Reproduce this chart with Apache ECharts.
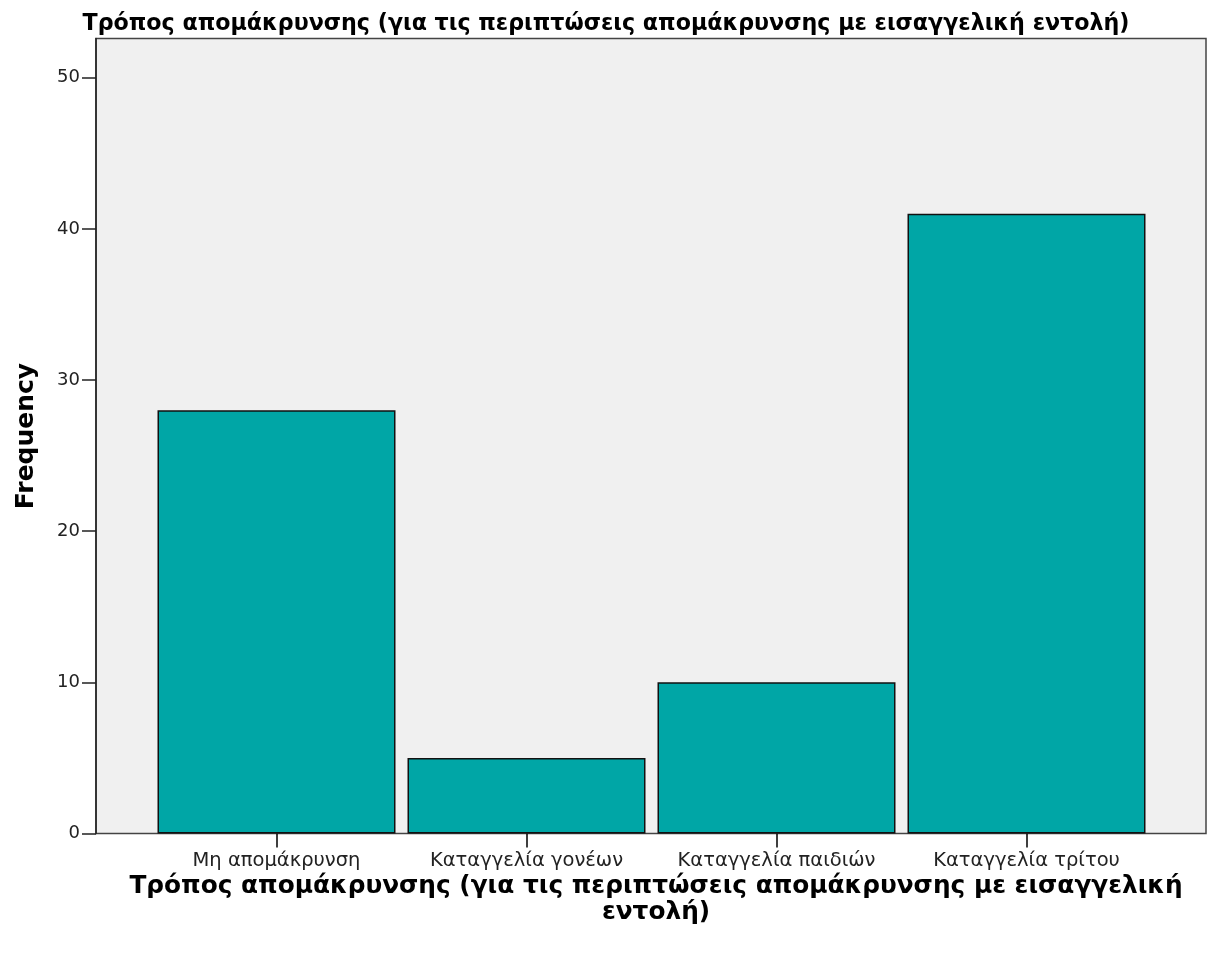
<!DOCTYPE html>
<html><head><meta charset="utf-8">
<script src="https://cdn.jsdelivr.net/npm/echarts@6/dist/echarts.min.js"></script>
<style>html,body{margin:0;padding:0;background:#fff}#c{width:1213px;height:955px}</style>
</head><body><div id="c"></div>
<script>
const categories = ['Μη απομάκρυνση', 'Καταγγελία γονέων', 'Καταγγελία παιδιών', 'Καταγγελία τρίτου'];
const frequencies = [28, 5, 10, 41];
const yTicks = [0, 10, 20, 30, 40, 50];
const chartTitle = 'Τρόπος απομάκρυνσης (για τις περιπτώσεις απομάκρυνσης με εισαγγελική εντολή)';
const xTitle = 'Τρόπος απομάκρυνσης (για τις περιπτώσεις απομάκρυνσης με εισαγγελική\nεντολή)';
const yTitle = 'Frequency';

(function () {
const F = 'DejaVu Sans, Verdana, sans-serif';
const gTop = 38.5, gH = 795, yMax = 52.6;
const chart = echarts.init(document.getElementById('c'));
chart.setOption({
  animation: false,
  title: [
    {text: chartTitle, left: 601, top: 7, textAlign: 'center', textStyle: {fontFamily: F, fontSize: 22.2, fontWeight: 'bold', color: '#000', lineHeight: 24}},
    {text: xTitle, left: 651, top: 869, textAlign: 'center',
     textStyle: {fontFamily: F, fontSize: 24.8, fontWeight: 'bold', color: '#000', lineHeight: 26, align: 'center'}}
  ],
  grid: [
    {left: 96, top: gTop, width: 1110, height: gH, show: true, backgroundColor: '#f0f0f0', borderColor: '#444', borderWidth: 1.5},
    {left: 151.5, top: gTop, width: 1000, height: gH}
  ],
  xAxis: [
    {gridIndex: 0, type: 'value', min: 0, max: 1, show: false},
    {gridIndex: 1, type: 'category', data: categories,
     axisLine: {show: false},
     axisTick: {show: true, interval: 0, alignWithLabel: true, length: 14, lineStyle: {color: '#000', width: 1.5}},
     axisLabel: {interval: 0, margin: 17, fontFamily: F, fontSize: 19.5, color: '#222'}}
  ],
  yAxis: [
    {gridIndex: 0, type: 'value', min: 0, max: yMax, name: yTitle, nameLocation: 'middle', nameGap: 57,
     nameTextStyle: {fontFamily: F, fontSize: 25, fontWeight: 'bold', color: '#000'},
     axisLine: {show: true, lineStyle: {color: '#222', width: 1.5}},
     axisTick: {show: true, length: 14, customValues: yTicks, lineStyle: {color: '#222', width: 1.5}},
     axisLabel: {customValues: yTicks, margin: 16, fontFamily: F, fontSize: 18, color: '#222'},
     splitLine: {show: false}},
    {gridIndex: 1, type: 'value', min: 0, max: yMax, show: false, splitLine: {show: false}}
  ],
  series: [{
    type: 'bar', xAxisIndex: 1, yAxisIndex: 1, data: frequencies,
    barWidth: 238,
    itemStyle: {color: '#00a6a6', borderColor: '#111', borderWidth: 1.5}
  }]
});
})();
</script></body></html>
